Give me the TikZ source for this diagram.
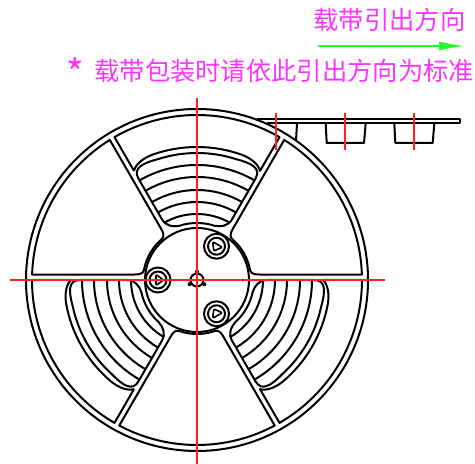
\documentclass[tikz,border=0pt]{standalone}
\usepackage{fontspec}
\newfontfamily\cjk{Noto Sans CJK SC}
\usetikzlibrary{arrows.meta}
\definecolor{mMagenta}{HTML}{FF33FF}
\definecolor{mGreen}{HTML}{22FF22}
\definecolor{mAxis}{HTML}{FF2020}
\tikzset{
	reelline/.style={line width=2pt, black, line join=round},
	axisline/.style={line width=1.7pt, mAxis},
	notetext/.style={inner sep=0pt, text=mMagenta, font=\cjk\fontsize{25.3}{26}\selectfont},
}
\begin{document}
\begin{tikzpicture}[x=1pt,y=1pt]
		\useasboundingbox (0,0) rectangle (475,464);
		%-------------------------------------------------------------------------------
		% notes
		%-------------------------------------------------------------------------------
		\node[notetext, anchor=center] (dirnote) at (389.5,444) {载带引出方向};
		\node[notetext, anchor=west] (stdnote) at (66.5,391.5)
			{\raisebox{-0.3em}{\scalebox{1.5}{*}}\hspace*{10pt}载带包装时请依此引出方向为标准};
		\coordinate (dirfrom) at (318,418);
		\coordinate (dirto) at (464,418);
		\draw[-{Latex[length=25pt,width=9pt]}, line width=1.4pt, mGreen] (dirfrom) -- (dirto);

		%-------------------------------------------------------------------------------
		% carrier tape
		%-------------------------------------------------------------------------------
		\draw[reelline] (257,345) -- (460,345) -- (460,340.5) -- (267,340.5);
		\draw[reelline] (297,340.5) -- (296,323.5);
		\draw[reelline] (325.7,340.5) -- (326.7,321) -- (364,321) -- (365.7,340.5);
		\draw[reelline] (394.3,340.5) -- (395.3,321) -- (432.7,321) -- (434.3,340.5);

		%-------------------------------------------------------------------------------
		% reel
		%-------------------------------------------------------------------------------
		\begin{scope}[shift={(197,184)}]
			\draw[reelline] (0,0) circle[radius=171];
			\draw[reelline] (0,0) circle[radius=52];

			% windows with the ribs
			\foreach \turn in {0,120,240} {
				\begin{scope}[rotate=\turn]
					% band under the rim
					\draw[reelline] (120:126) -- (120:165)
						arc[start angle=120, end angle=60, radius=165] -- (60:126)
						.. controls (62:131) and (66:133) .. (70:133)
						arc[start angle=70, end angle=110, radius=133]
						.. controls (114:133) and (118:131) .. (120:126);
					% window
					\draw[reelline] (120:70) -- (120:117)
						.. controls (120:129) and (115:129) .. (108:127)
						arc[start angle=108, end angle=72, radius=127]
						.. controls (65:129) and (60:129) .. (60:117)
						-- (60:70)
						.. controls (60:62) and (66:58) .. (72:57)
						arc[start angle=72, end angle=108, radius=57]
						.. controls (114:58) and (120:62) .. (120:70) -- cycle;
					% ribs
					\foreach \rib in {66,78,90,103,115}
						\draw[reelline] (120:\rib) arc[start angle=120, end angle=60, radius=\rib];
				\end{scope}
			}

			% plain windows
			\foreach \turn in {60,180,300} {
				\begin{scope}[rotate=\turn]
					\draw[reelline] (118.1:165) arc[start angle=118.1, end angle=61.9, radius=165]
						-- (65:63) .. controls (65.7:54.5) and (68:54) .. (73:54)
						arc[start angle=73, end angle=107, radius=54]
						.. controls (112:54) and (114.3:54.5) .. (115:63) -- cycle;
				\end{scope}
			}

			% small bosses
			\foreach \turn in {0,120,240} {
				\begin{scope}[shift={(\turn+180:39)}]
					\draw[reelline] (0,0) circle[radius=12.5];
					\draw[reelline] (0,0) circle[radius=8.5];
					\draw[reelline, line width=1.6pt, rounded corners=1pt]
						(\turn+110:5.85) -- (\turn-110:5.85) -- (\turn:5.5) -- cycle;
				\end{scope}
			}

			% centre mark
			\draw[reelline] (0,0) circle[radius=6.5];
			\foreach \turn in {90,210,330}
				\fill (\turn:8.5) circle[radius=2];
		\end{scope}

		%-------------------------------------------------------------------------------
		% centre lines
		%-------------------------------------------------------------------------------
		\draw[axisline] (197,366) -- (197,0);
		\draw[axisline] (10,184) -- (385,184);
		\draw[axisline] (276,351.3) -- (276,314);
		\draw[axisline] (345,351.3) -- (345,314);
		\draw[axisline] (414,351.3) -- (414,314);
\end{tikzpicture}
\end{document}
